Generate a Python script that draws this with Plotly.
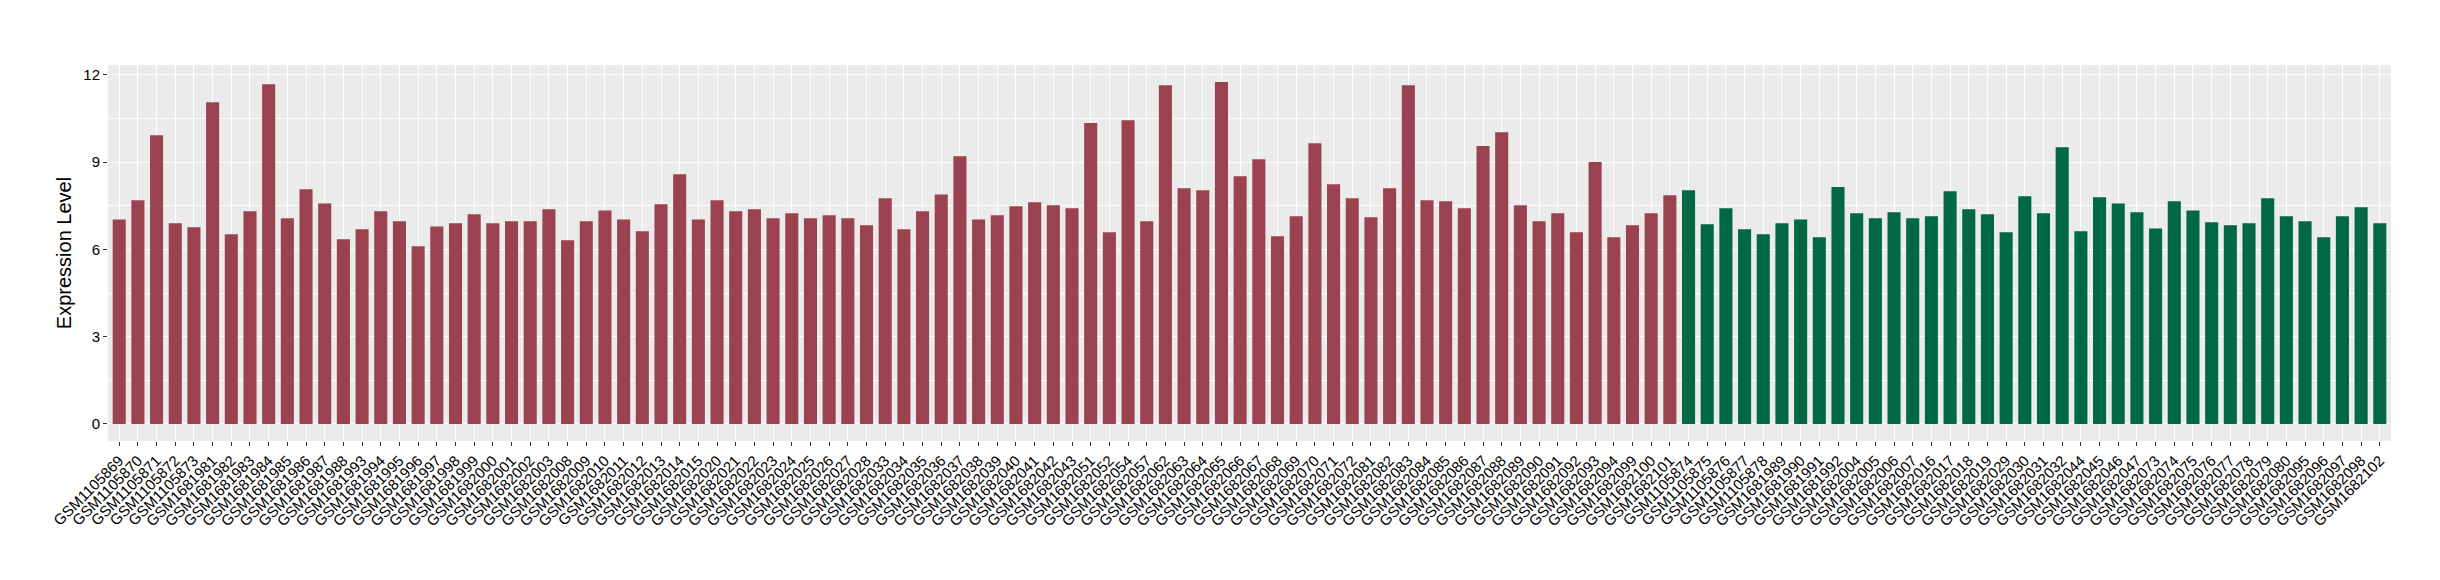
"""
Expression level per sample, two groups — bar chart in ggplot2 grey style.
"""
import plotly.graph_objects as go

# Group 1 (red) samples and values
RED_SAMPLES = [
    "GSM1105869", "GSM1105870", "GSM1105871", "GSM1105872", "GSM1105873",
    "GSM1681981", "GSM1681982", "GSM1681983", "GSM1681984", "GSM1681985",
    "GSM1681986", "GSM1681987", "GSM1681988", "GSM1681993", "GSM1681994",
    "GSM1681995", "GSM1681996", "GSM1681997", "GSM1681998", "GSM1681999",
    "GSM1682000", "GSM1682001", "GSM1682002", "GSM1682003", "GSM1682008",
    "GSM1682009", "GSM1682010", "GSM1682011", "GSM1682012", "GSM1682013",
    "GSM1682014", "GSM1682015", "GSM1682020", "GSM1682021", "GSM1682022",
    "GSM1682023", "GSM1682024", "GSM1682025", "GSM1682026", "GSM1682027",
    "GSM1682028", "GSM1682033", "GSM1682034", "GSM1682035", "GSM1682036",
    "GSM1682037", "GSM1682038", "GSM1682039", "GSM1682040", "GSM1682041",
    "GSM1682042", "GSM1682043", "GSM1682051", "GSM1682052", "GSM1682054",
    "GSM1682057", "GSM1682062", "GSM1682063", "GSM1682064", "GSM1682065",
    "GSM1682066", "GSM1682067", "GSM1682068", "GSM1682069", "GSM1682070",
    "GSM1682071", "GSM1682072", "GSM1682081", "GSM1682082", "GSM1682083",
    "GSM1682084", "GSM1682085", "GSM1682086", "GSM1682087", "GSM1682088",
    "GSM1682089", "GSM1682090", "GSM1682091", "GSM1682092", "GSM1682093",
    "GSM1682094", "GSM1682099", "GSM1682100", "GSM1682101",
]
RED_VALUES = [
    7.03, 7.69, 9.92, 6.90, 6.76, 11.06, 6.52, 7.31, 11.68, 7.07,
    8.07, 7.58, 6.35, 6.69, 7.31, 6.97, 6.11, 6.79, 6.90, 7.21,
    6.90, 6.97, 6.97, 7.38, 6.31, 6.97, 7.34, 7.03, 6.62, 7.55,
    8.58, 7.03, 7.69, 7.31, 7.38, 7.07, 7.24, 7.07, 7.17, 7.07,
    6.83, 7.76, 6.69, 7.31, 7.89, 9.20, 7.03, 7.17, 7.48, 7.62,
    7.52, 7.41, 10.34, 6.59, 10.44, 6.97, 11.64, 8.10, 8.03, 11.75,
    8.51, 9.10, 6.45, 7.14, 9.65, 8.24, 7.76, 7.10, 8.10, 11.64,
    7.69, 7.65, 7.41, 9.55, 10.03, 7.52, 6.97, 7.24, 6.59, 9.00,
    6.42, 6.83, 7.24, 7.86,
]

# Group 2 (green) samples and values
GREEN_SAMPLES = [
    "GSM1105874", "GSM1105875", "GSM1105876", "GSM1105877", "GSM1105878",
    "GSM1681989", "GSM1681990", "GSM1681991", "GSM1681992", "GSM1682004",
    "GSM1682005", "GSM1682006", "GSM1682007", "GSM1682016", "GSM1682017",
    "GSM1682018", "GSM1682019", "GSM1682029", "GSM1682030", "GSM1682031",
    "GSM1682032", "GSM1682044", "GSM1682045", "GSM1682046", "GSM1682047",
    "GSM1682073", "GSM1682074", "GSM1682075", "GSM1682076", "GSM1682077",
    "GSM1682078", "GSM1682079", "GSM1682080", "GSM1682095", "GSM1682096",
    "GSM1682097", "GSM1682098", "GSM1682102",
]
GREEN_VALUES = [
    8.03, 6.86, 7.41, 6.69, 6.52, 6.90, 7.03, 6.42, 8.14, 7.24,
    7.07, 7.28, 7.07, 7.14, 8.00, 7.38, 7.21, 6.59, 7.83, 7.24,
    9.51, 6.62, 7.79, 7.58, 7.28, 6.72, 7.65, 7.34, 6.93, 6.83,
    6.90, 7.76, 7.14, 6.97, 6.42, 7.14, 7.45, 6.90,
]

Y_TICKS = [0, 3, 6, 9, 12]

COLORS = {"red": "#9B4251", "green": "#006747", "panel": "#EBEBEB", "ink": "#000000"}
FONT = "Liberation Sans, Arial, Helvetica, sans-serif"

order = RED_SAMPLES + GREEN_SAMPLES
n = len(order)

fig = go.Figure()
fig.add_trace(go.Bar(
    x=RED_SAMPLES, y=RED_VALUES, width=0.7,
    marker=dict(color=COLORS["red"], line=dict(width=0)),
    showlegend=False,
))
fig.add_trace(go.Bar(
    x=GREEN_SAMPLES, y=GREEN_VALUES, width=0.7,
    marker=dict(color=COLORS["green"], line=dict(width=0)),
    showlegend=False,
))

ymax = max(RED_VALUES + GREEN_VALUES)
pad = ymax * 0.05

fig.update_layout(
    width=2440, height=580,
    barmode="overlay",
    paper_bgcolor="white",
    plot_bgcolor=COLORS["panel"],
    font=dict(family=FONT, size=15, color=COLORS["ink"]),
    margin=dict(l=100, r=57, t=57, b=147),
)
fig.update_xaxes(
    type="category", categoryorder="array", categoryarray=order,
    range=[-0.6, n - 1 + 0.6],
    tickangle=-45, tickfont=dict(size=15, color=COLORS["ink"]),
    ticks="outside", ticklen=4, tickcolor="#333333", tickwidth=1,
    showgrid=True, gridcolor="white", gridwidth=1.3,
    zeroline=False, showline=False,
)
fig.update_yaxes(
    range=[-pad, ymax + pad],
    tickvals=Y_TICKS, tickfont=dict(size=15, color=COLORS["ink"]),
    ticks="outside", ticklen=4, tickcolor="#333333", tickwidth=1,
    showgrid=True, gridcolor="white", gridwidth=1.3,
    minor=dict(tickvals=[1.5, 4.5, 7.5, 10.5], showgrid=True, gridcolor="white", gridwidth=0.6),
    zeroline=False, showline=False,
    title=dict(text="Expression Level", font=dict(size=20, color=COLORS["ink"]), standoff=6),
)

fig.write_html("out.html")
